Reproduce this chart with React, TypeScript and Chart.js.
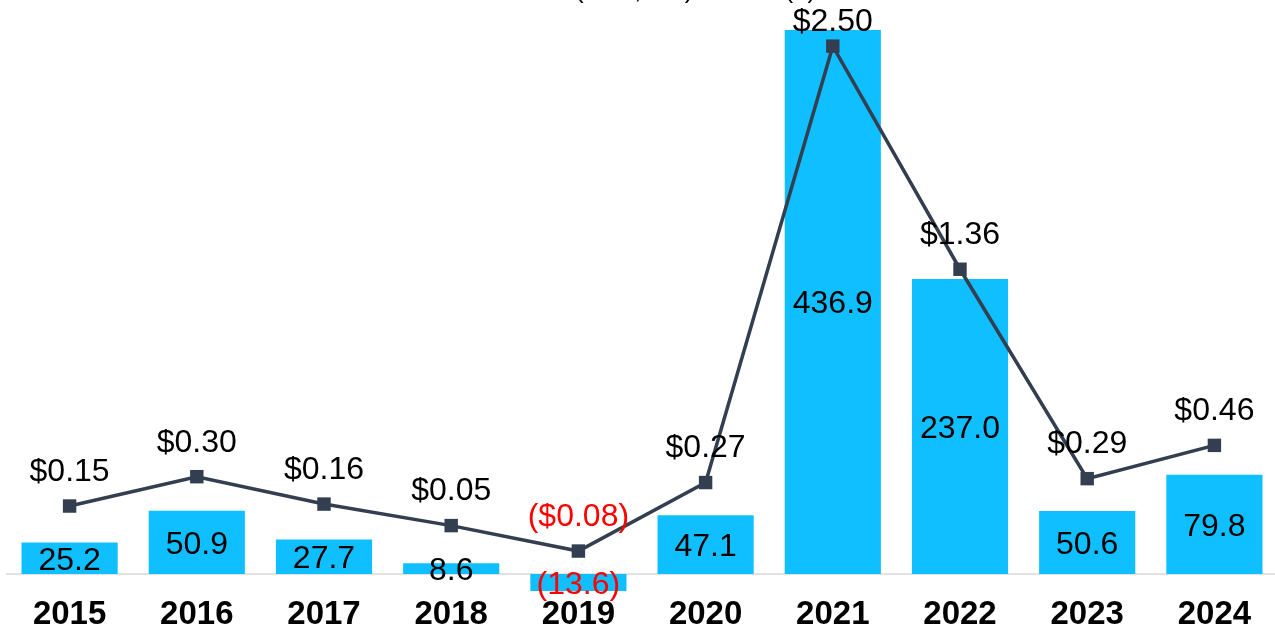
import React, { useEffect, useRef } from "react";
import { Chart, registerables } from "chart.js";

Chart.register(...registerables);

const years = ["2015", "2016", "2017", "2018", "2019", "2020", "2021", "2022", "2023", "2024"];
const netIncome = [25.2, 50.9, 27.7, 8.6, -13.6, 47.1, 436.9, 237.0, 50.6, 79.8];
const eps = [0.15, 0.3, 0.16, 0.05, -0.08, 0.27, 2.5, 1.36, 0.29, 0.46];
const titlePrefix = "Net Income ";
const titleText = "Net Income (US$, mn) & EPS ($)";

const BAR_COLOR = "#10BFFF";
const LINE_COLOR = "#333F50";
const LABEL_FONT = '32px "Liberation Sans", Arial, sans-serif';

const labelsPlugin = {
  id: "customLabels",
  afterDatasetsDraw(chart: any) {
    const ctx = chart.ctx;
    ctx.save();
    ctx.font = LABEL_FONT;
    ctx.textAlign = "center";
    ctx.textBaseline = "middle";
    // bar labels
    const barMeta = chart.getDatasetMeta(1);
    barMeta.data.forEach((el: any, i: number) => {
      const v = netIncome[i];
      const txt = v < 0 ? `(${Math.abs(v).toFixed(1)})` : v.toFixed(1);
      ctx.fillStyle = v < 0 ? "#FF0000" : "#000000";
      const y = (el.y + el.base) / 2 + 2.5;
      ctx.fillText(txt, el.x, y);
    });
    // line labels
    const lineMeta = chart.getDatasetMeta(0);
    lineMeta.data.forEach((el: any, i: number) => {
      const v = eps[i];
      const txt = v < 0 ? `($${Math.abs(v).toFixed(2)})` : `$${v.toFixed(2)}`;
      ctx.fillStyle = v < 0 ? "#FF0000" : "#000000";
      const y = Math.max(el.y - 34, 22);
      ctx.fillText(txt, el.x, y);
    });
    // title (cut off at top)
    ctx.fillStyle = "#000000";
    ctx.font = '26px "Liberation Sans", Arial, sans-serif';
    ctx.textBaseline = "alphabetic";
    ctx.textAlign = "left";
    const pre = ctx.measureText(titlePrefix).width;
    ctx.fillText(titleText, 575 - pre, -2);
    ctx.restore();
  },
  beforeDatasetsDraw(chart: any) {
    const ctx = chart.ctx;
    const y = chart.scales.y.getPixelForValue(0);
    const { left, right } = chart.chartArea;
    ctx.save();
    ctx.strokeStyle = "#D9D9D9";
    ctx.lineWidth = 1.5;
    ctx.beginPath();
    ctx.moveTo(left, y);
    ctx.lineTo(right, y);
    ctx.stroke();
    ctx.restore();
  },
};

export default function App() {
  const ref = useRef<HTMLCanvasElement>(null);
  useEffect(() => {
    if (!ref.current) return;
    const chart = new Chart(ref.current, {
      type: "bar",
      data: {
        labels: years,
        datasets: [
          {
            type: "line",
            data: eps,
            yAxisID: "y2",
            borderColor: LINE_COLOR,
            backgroundColor: LINE_COLOR,
            borderWidth: 3.5,
            pointStyle: "rect",
            pointRadius: 9.5,
            pointBorderWidth: 0,
            pointBackgroundColor: LINE_COLOR,
            tension: 0,
            order: 0,
          } as any,
          {
            type: "bar",
            data: netIncome,
            yAxisID: "y",
            backgroundColor: BAR_COLOR,
            categoryPercentage: 1,
            barPercentage: 0.756,
            order: 1,
          },
        ],
      },
      options: {
        animation: false,
        responsive: false,
        maintainAspectRatio: false,
        layout: { autoPadding: false, padding: { left: 6, right: 0, top: 0, bottom: 0 } },
        plugins: { legend: { display: false }, tooltip: { enabled: false }, title: { display: false } },
        scales: {
          x: {
            grid: { display: false, drawTicks: false },
            border: { display: false },
            ticks: {
              padding: 0,
              color: "#000000",
              font: { family: '"Liberation Sans", Arial, sans-serif', size: 33, weight: "bold" },
              maxRotation: 0,
              autoSkip: false,
            },
            afterFit: (scale: any) => {
              scale.height = 32;
            },
          },
          y: { display: false, min: -16.87, max: 461.04 },
          y2: { display: false, min: -0.3046, max: 2.7358, position: "right" },
        },
      },
      plugins: [labelsPlugin],
    });
    return () => chart.destroy();
  }, []);
  return (
    <div style={{ position: "fixed", left: 0, top: 0, width: 1275, height: 627, overflow: "hidden", background: "#fff" }}>
      <canvas ref={ref} width={1278} height={627} style={{ display: "block" }} />
    </div>
  );
}
